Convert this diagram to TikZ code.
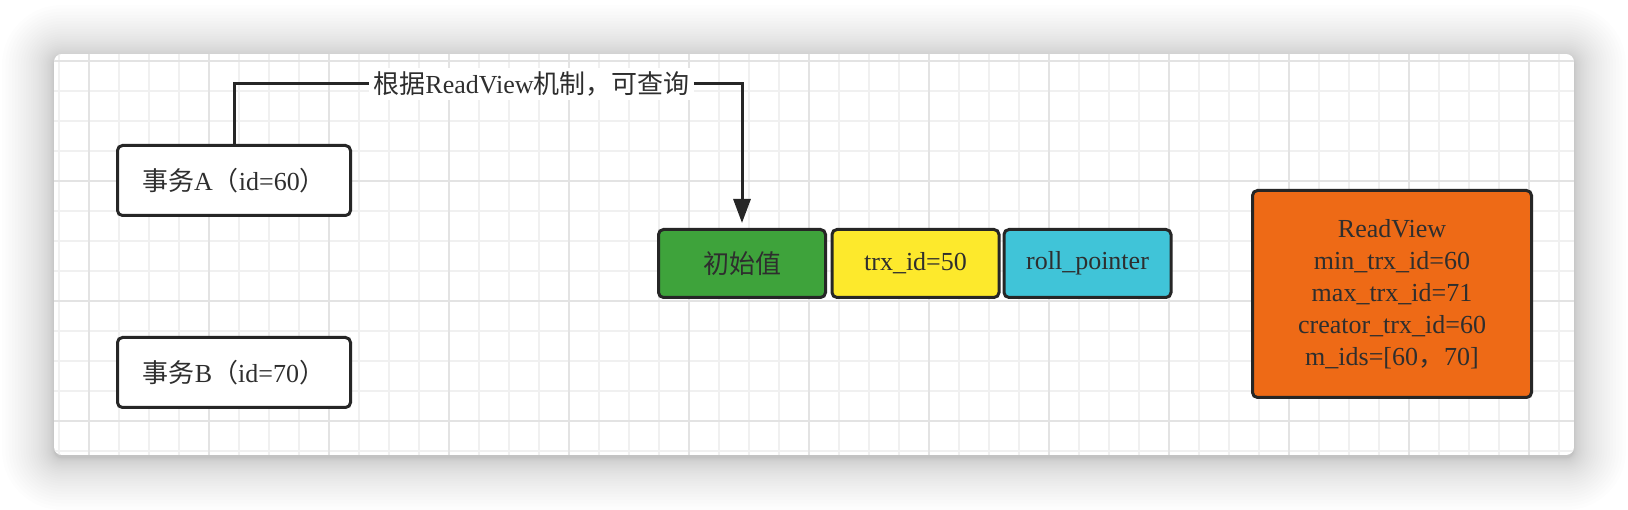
\documentclass[tikz,border=0pt]{standalone}
\usepackage{fontspec}
\setmainfont{Liberation Serif}
\newfontfamily\cjk{Noto Sans CJK SC}
\usetikzlibrary{arrows.meta}
\definecolor{gridminor}{HTML}{F0F0F0}
\definecolor{gridmajor}{HTML}{E3E3E3}
\definecolor{boxline}{HTML}{262626}
\definecolor{txt}{HTML}{2E2E2E}
\definecolor{cgreen}{HTML}{3EA33B}
\definecolor{cyellow}{HTML}{FDE92C}
\definecolor{ccyan}{HTML}{40C4D8}
\definecolor{corange}{HTML}{EE6A16}
\begin{document}
\begin{tikzpicture}[x=1pt,y=-1pt,
  box/.style={draw=boxline, line width=3pt, rounded corners=5pt, minimum width=233pt, minimum height=70pt, inner sep=0pt, text=txt, font=\fontsize{26}{32}\selectfont},
  cell/.style={box, minimum width=167pt, minimum height=68pt},
  lbl/.style={fill=white, inner sep=4pt, text=txt, font=\fontsize{26}{32}\selectfont},
  conn/.style={draw=boxline, line width=3pt}]
\useasboundingbox (0,0) rectangle (1628,510);
% shadow of the card
\foreach \i in {1,...,30}{
  \pgfmathsetmacro{\e}{52*(\i/30)^2}
  \fill[black, opacity=0.008, rounded corners={8+\e}] ({54-\e},{54-\e+3}) rectangle ({1574+\e},{455+\e+3});
}
% card with grid
\begin{scope}
\clip[rounded corners=8pt] (54,54) rectangle (1574,455);
\fill[white] (54,54) rectangle (1574,455);
\foreach \x in {59,89,...,1559} \draw[gridminor, line width=1.6pt] (\x,54) -- (\x,455);
\foreach \y in {61,91,...,451} \draw[gridminor, line width=1.6pt] (54,\y) -- (1574,\y);
\foreach \x in {89,209,...,1529} \draw[gridmajor, line width=1.6pt] (\x,54) -- (\x,455);
\foreach \y in {61,181,301,421} \draw[gridmajor, line width=1.6pt] (54,\y) -- (1574,\y);
\end{scope}
% nodes
\node[box, fill=white] (a) at (234,180.5) {{\cjk 事务}A{\cjk （}id=60{\cjk ）}};
\node[box, fill=white] (b) at (234,372.5) {{\cjk 事务}B{\cjk （}id=70{\cjk ）}};
\node[cell, fill=cgreen] (g) at (742,263.5) {{\cjk 初始值}};
\node[cell, fill=cyellow] (y) at (915.5,263.5) {trx\_id=50};
\node[cell, fill=ccyan] (c) at (1087.5,263.5) {roll\_pointer};
\node[box, fill=corange, minimum width=279pt, minimum height=207pt, align=center] (rv) at (1392,294)
  {ReadView\\min\_trx\_id=60\\max\_trx\_id=71\\creator\_trx\_id=60\\m\_ids=[60{\cjk ，}70]};
\node[lbl] (l) at (531.5,84) {{\cjk 根据}ReadView{\cjk 机制，可查询}};
% connector
\draw[conn] (a.north) |- (l.west);
\draw[conn, -{Triangle[length=24pt,width=17pt]}, shorten >=5pt] (l.east) -| (g.north);
\end{tikzpicture}
\end{document}
